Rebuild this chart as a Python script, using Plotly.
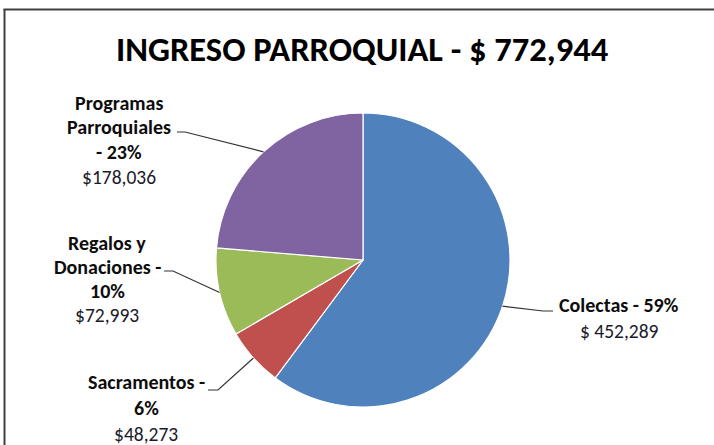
import math
import plotly.graph_objects as go

# ---- data ----
categories = ["Colectas", "Sacramentos", "Regalos y Donaciones", "Programas Parroquiales"]
values = [452289, 48273, 72993, 178036]
label_lines = [
    ["Colectas - 59%"],
    ["Sacramentos -", "6%"],
    ["Regalos y", "Donaciones -", "10%"],
    ["Programas", "Parroquiales", "- 23%"],
]
value_texts = ["$ 452,289", "$48,273", "$72,993", "$178,036"]
title_text = "INGRESO PARROQUIAL - $ 772,944"

colors = ["#4F81BD", "#C0504D", "#9BBB59", "#8064A2"]

W, H = 714, 445
CX, CY, R = 363, 260, 147
FONT = "Carlito, Calibri, Liberation Sans Narrow, Open Sans, sans-serif"

def px(x):
    return x / W

def py(y):
    return 1 - y / H

fig = go.Figure(go.Pie(
    labels=categories, values=values, sort=False, direction="clockwise", rotation=0,
    marker=dict(colors=colors, line=dict(color="white", width=1.2)),
    textinfo="none", hoverinfo="label+value+percent", showlegend=False,
    domain=dict(x=[px(CX - R), px(CX + R)], y=[py(CY + R), py(CY - R)]),
))

# label block layout: (center x, first line y, line step, elbow start x, elbow end x, elbow y)
label_layout = [
    dict(cx=619, y0=305, step=25.5, hx0=553, hx1=543, hy=311),
    dict(cx=146, y0=382, step=26, hx0=208, hx1=218, hy=390),
    dict(cx=107, y0=243, step=24, hx0=164, hx1=173, hy=271),
    dict(cx=119, y0=103, step=24.5, hx0=177, hx1=185, hy=132),
]

annotations = [dict(text="<b>" + title_text + "</b>", x=px(362), y=py(49), xref="paper", yref="paper",
                    showarrow=False, font=dict(family=FONT, size=34.5, color="#000000"),
                    xanchor="center", yanchor="middle")]
shapes = []

total = sum(values)
cum = 0
for i, v in enumerate(values):
    mid = 2 * math.pi * (cum + v / 2) / total
    cum += v
    ex = CX + R * math.sin(mid)
    ey = CY - R * math.cos(mid)
    L = label_layout[i]
    y = L["y0"]
    for line in label_lines[i]:
        annotations.append(dict(text="<b>" + line + "</b>", x=px(L["cx"]), y=py(y), xref="paper", yref="paper",
                                showarrow=False, font=dict(family=FONT, size=20, color="#0d0d0d"),
                                xanchor="center", yanchor="middle"))
        y += L["step"]
    annotations.append(dict(text=value_texts[i], x=px(L["cx"]), y=py(y), xref="paper", yref="paper",
                            showarrow=False, font=dict(family=FONT, size=19.5, color="#1a1a2a"),
                            xanchor="center", yanchor="middle"))
    shapes.append(dict(type="path", xref="paper", yref="paper",
                       path=f"M {px(L['hx0'])} {py(L['hy'])} L {px(L['hx1'])} {py(L['hy'])} L {px(ex)} {py(ey)}",
                       line=dict(color="#333333", width=1.2)))

# chart frame (top and left edges visible in crop)
shapes.append(dict(type="line", xref="paper", yref="paper", x0=px(3.5), x1=1.0, y0=py(9.5), y1=py(9.5),
                   line=dict(color="#404040", width=2)))
shapes.append(dict(type="line", xref="paper", yref="paper", x0=px(4.5), x1=px(4.5), y0=py(9), y1=0,
                   line=dict(color="#404040", width=2)))

fig.update_layout(width=W, height=H, margin=dict(l=0, r=0, t=0, b=0),
                  paper_bgcolor="white", plot_bgcolor="white",
                  annotations=annotations, shapes=shapes)

fig.write_html("out.html", config={"displayModeBar": False},
               post_script="document.body.style.margin='0';document.body.style.overflow='hidden';")
